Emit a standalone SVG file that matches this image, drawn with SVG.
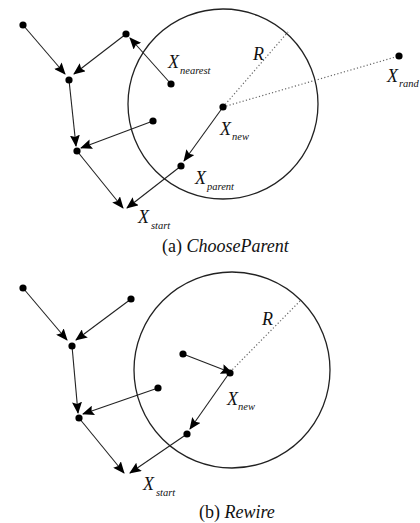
<svg xmlns="http://www.w3.org/2000/svg" width="420" height="523" viewBox="0 0 420 523">
<style>
.e{stroke:#222;stroke-width:1.1;fill:none;marker-end:url(#ah)}
.d{stroke:#666;stroke-width:1.2;stroke-dasharray:1.2,2.2;fill:none}
.c{stroke:#222;stroke-width:1.3;fill:none}
.n{fill:#000}
.t{font-family:"Liberation Serif","Times New Roman",serif;font-style:italic;fill:#111}
.x{font-size:18px}
.s{font-size:10.5px}
.cap{font-size:18px;font-style:normal}
</style>
<defs>
<marker id="ah" markerUnits="userSpaceOnUse" markerWidth="12" markerHeight="10" refX="11" refY="5" orient="auto">
<path d="M0,0 L12,5 L0,10 L2,5 z" fill="#000"/>
</marker>
</defs>
<rect width="420" height="523" fill="#fff"/>

<!-- Panel (a) -->
<g id="a-region">
<circle class="c" cx="223" cy="104" r="95"/>
<line class="d" x1="223" y1="107" x2="288" y2="32"/>
<line class="d" x1="223" y1="107" x2="399" y2="56"/>
</g>
<g id="a-connectors">
<line class="e" x1="23" y1="25" x2="65" y2="74"/>
<line class="e" x1="126" y1="34" x2="74" y2="74"/>
<line class="e" x1="171" y1="84" x2="130" y2="38"/>
<line class="e" x1="69" y1="80" x2="76" y2="146"/>
<line class="e" x1="153" y1="121" x2="81" y2="148"/>
<line class="e" x1="77" y1="151" x2="123" y2="208"/>
<line class="e" x1="181" y1="166" x2="127" y2="208"/>
<line class="e" x1="223" y1="107" x2="184" y2="161"/>
</g>
<g id="a-n1"><circle class="n" cx="23" cy="25" r="3.6"/></g>
<g id="a-n2"><circle class="n" cx="69" cy="80" r="3.6"/></g>
<g id="a-n3"><circle class="n" cx="126" cy="34" r="3.6"/></g>
<g id="a-xnearest"><circle class="n" cx="171" cy="84" r="3.6"/><text class="t x" x="168" y="68">X</text><text class="t s" x="180" y="74">nearest</text></g>
<g id="a-n4"><circle class="n" cx="153" cy="121" r="3.6"/></g>
<g id="a-n5"><circle class="n" cx="77" cy="151" r="3.6"/></g>
<g id="a-xstart"><text class="t x" x="138" y="223">X</text><text class="t s" x="151" y="229">start</text></g>
<g id="a-xparent"><circle class="n" cx="181" cy="166" r="3.6"/><text class="t x" x="195" y="184">X</text><text class="t s" x="207" y="190">parent</text></g>
<g id="a-xnew"><circle class="n" cx="223" cy="107" r="3.6"/><text class="t x" x="220" y="135">X</text><text class="t s" x="232" y="140">new</text></g>
<g id="a-xrand"><circle class="n" cx="399" cy="56" r="3.6"/><text class="t x" x="387" y="82">X</text><text class="t s" x="399" y="87">rand</text></g>
<text class="t x" x="253" y="60">R</text>
<text class="t cap" x="162" y="252">(a) <tspan font-style="italic">ChooseParent</tspan></text>

<!-- Panel (b) -->
<g id="b-region">
<circle class="c" cx="232" cy="370" r="98"/>
<line class="d" x1="230" y1="372" x2="301" y2="300"/>
</g>
<g id="b-connectors">
<line class="e" x1="23" y1="288" x2="67" y2="340"/>
<line class="e" x1="131" y1="299" x2="76" y2="340"/>
<line class="e" x1="72" y1="346" x2="78" y2="413"/>
<line class="e" x1="158" y1="388" x2="83" y2="414"/>
<line class="e" x1="79" y1="418" x2="124" y2="473"/>
<line class="e" x1="187" y1="434" x2="130" y2="473"/>
<line class="e" x1="230" y1="372" x2="190" y2="429"/>
<line class="e" x1="183" y1="354" x2="232" y2="373"/>
</g>
<g id="b-n1"><circle class="n" cx="23" cy="288" r="3.6"/></g>
<g id="b-n2"><circle class="n" cx="72" cy="346" r="3.6"/></g>
<g id="b-n3"><circle class="n" cx="131" cy="299" r="3.6"/></g>
<g id="b-n4"><circle class="n" cx="183" cy="354" r="3.6"/></g>
<g id="b-n5"><circle class="n" cx="158" cy="388" r="3.6"/></g>
<g id="b-n6"><circle class="n" cx="79" cy="418" r="3.6"/></g>
<g id="b-xparent"><circle class="n" cx="187" cy="434" r="3.6"/></g>
<g id="b-xnew"><circle class="n" cx="230" cy="373" r="3.6"/><text class="t x" x="227" y="405">X</text><text class="t s" x="238" y="410">new</text></g>
<g id="b-xstart"><text class="t x" x="143" y="490">X</text><text class="t s" x="156" y="496">start</text></g>
<text class="t x" x="262" y="325">R</text>
<text class="t cap" x="199" y="518">(b) <tspan font-style="italic">Rewire</tspan></text>
</svg>
